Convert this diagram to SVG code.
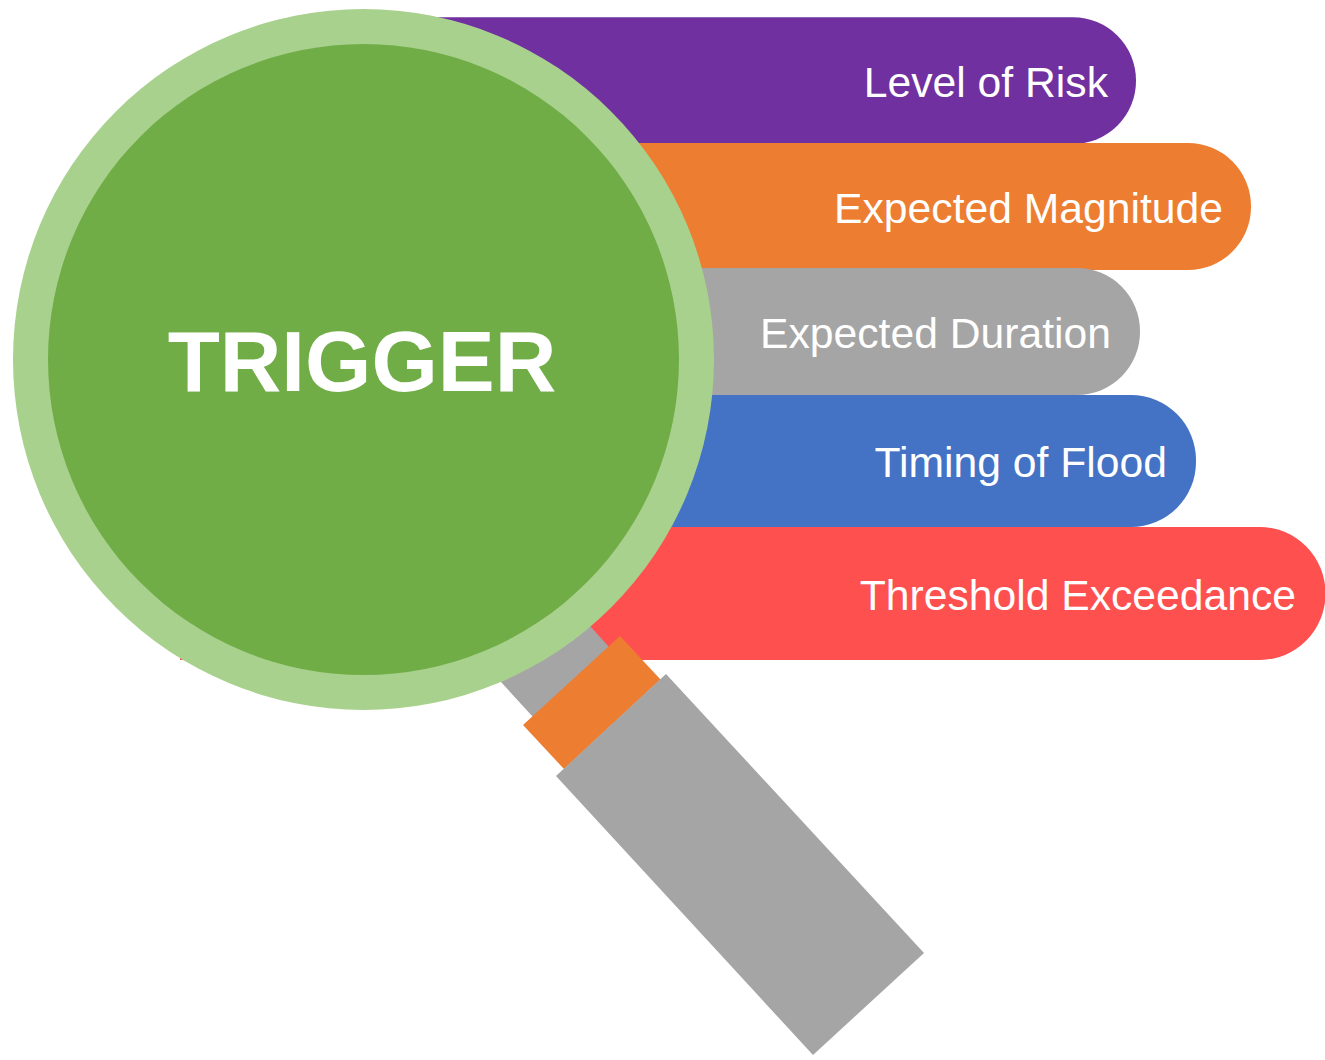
<svg xmlns="http://www.w3.org/2000/svg" width="1325" height="1060" viewBox="0 0 1325 1060">
<style>
.l{font-family:"Liberation Sans",Arial,sans-serif;font-size:42.67px;fill:#fff;text-anchor:end}
</style>
<rect width="1325" height="1060" fill="#fff"/>
<g id="bar-risk"><rect x="300" y="17.300" width="836" height="126.700" rx="63" fill="#7030a0"/><text class="l" x="1108" y="97">Level of Risk</text></g>
<g id="bar-magnitude"><rect x="300" y="143" width="951" height="127" rx="63" fill="#ed7d31"/><text class="l" x="1223" y="223">Expected Magnitude</text></g>
<g id="bar-duration"><rect x="300" y="268" width="840" height="127" rx="63" fill="#a5a5a5"/><text class="l" x="1111" y="348">Expected Duration</text></g>
<g id="bar-timing"><rect x="300" y="395" width="896" height="132" rx="65" fill="#4472c4"/><text class="l" x="1167" y="477">Timing of Flood</text></g>
<g id="bar-threshold"><path d="M180 527H1260A65.500 66.500 0 0 1 1260 660H180Z" fill="#ff5050"/><text class="l" x="1296" y="610">Threshold Exceedance</text></g>
<g id="handle">
<polygon points="590,626 609,647 533,717 501,682 500,660" fill="#a5a5a5"/>
<polygon points="620,636 660.500,679.500 564,769 523,725" fill="#ed7d31"/>
<polygon points="666,674 924,953 813,1055 556,776" fill="#a5a5a5"/>
</g>
<g id="lens">
<circle cx="363.500" cy="359.500" r="350.500" fill="#a9d18e"/>
<circle cx="363.500" cy="359.500" r="315.500" fill="#70ad47"/>
<text x="362" y="391" font-family="'Liberation Sans',Arial,sans-serif" font-size="85.330" font-weight="700" fill="#fff" text-anchor="middle">TRIGGER</text>
</g>
</svg>
